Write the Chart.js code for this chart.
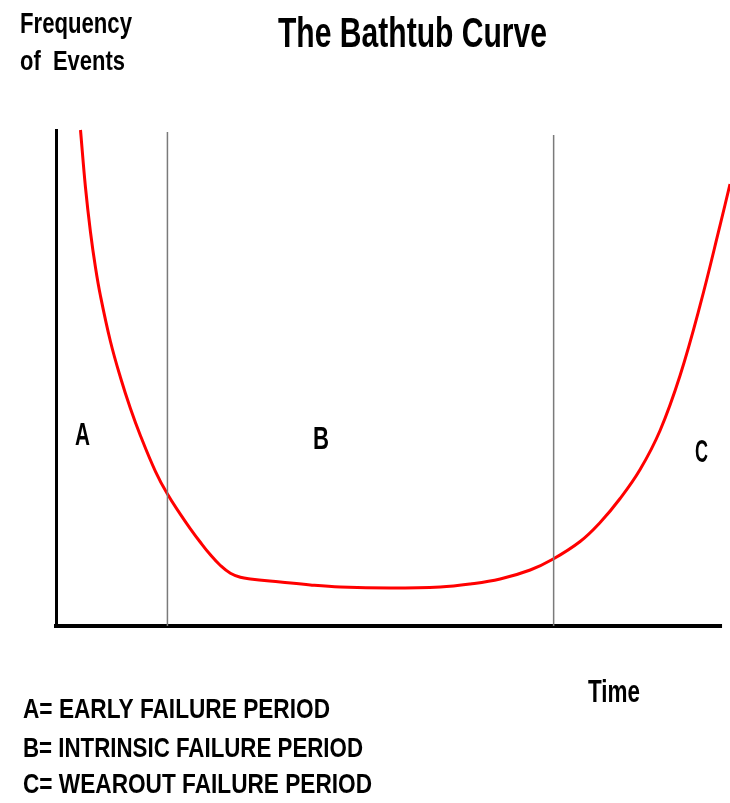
<!DOCTYPE html>
<html>
<head>
<meta charset="utf-8">
<script src="https://cdn.jsdelivr.net/npm/chart.js@4"></script>
<style>
  html, body { margin: 0; padding: 0; background: #ffffff; }
  canvas { display: block; }
</style>
</head>
<body>
<canvas id="c" width="730" height="803"></canvas>
<script>
// ---- Data ----
const curveTime = [3.69, 4.44, 5.19, 5.94, 6.70, 8.20, 9.71, 11.21, 12.72, 14.97, 16.78, 18.74, 20.24, 21.74, 23.25, 24.76, 26.26, 27.77, 29.27, 33.78, 38.30, 42.81, 50.34, 57.86, 62.38, 66.89, 71.41, 74.87, 78.93, 81.94, 84.95, 87.96, 90.97, 93.98, 96.99, 100.0, 101.5];
const curveFrequency = [100.0, 88.41, 79.44, 72.33, 66.53, 57.36, 50.10, 43.85, 38.37, 31.19, 26.59, 22.52, 19.60, 16.88, 14.35, 12.20, 10.63, 9.82, 9.48, 8.87, 8.27, 7.86, 7.66, 7.86, 8.47, 9.48, 11.29, 13.51, 17.04, 20.87, 25.71, 31.55, 39.42, 50.50, 64.62, 80.75, 89.11];
const timeAxisEnd = 100;
const timeMax = 101.5;
const periodBoundaries = [16.78, 74.94];
const boundaryTops = [99.6, 99.0];
const periodLetters = ["A", "B", "C"];
const titleText = "The Bathtub Curve";
const yAxisTitle = ["Frequency", "of  Events"];
const xAxisTitle = "Time";
const legendLines = ["A= EARLY FAILURE PERIOD", "B= INTRINSIC FAILURE PERIOD", "C= WEAROUT FAILURE PERIOD"];

// ---- Build datasets ----
const curvePoints = curveTime.map((t, i) => ({ x: t, y: curveFrequency[i] }));
const boundaryDatasets = periodBoundaries.map((t, i) => ({
  data: [{ x: t, y: 0 }, { x: t, y: boundaryTops[i] }],
  borderColor: "#7a7a7a",
  borderWidth: 1.5,
  pointRadius: 0,
  tension: 0,
  clip: false
}));
const timeAxisDataset = {
  data: [{ x: 0, y: 0 }, { x: timeAxisEnd, y: 0 }],
  borderColor: "#000000",
  borderWidth: 4,
  borderCapStyle: "square",
  pointRadius: 0,
  tension: 0,
  clip: false
};

// text helper: fit text into a box (left..right), at baseline with given cap height
function fitText(ctx, text, left, right, baseline, cap) {
  const size = cap / 0.716;
  ctx.save();
  ctx.font = "bold " + size.toFixed(2) + "px 'Liberation Sans', Arial, sans-serif";
  ctx.fillStyle = "#000000";
  ctx.textBaseline = "alphabetic";
  ctx.textAlign = "left";
  const w = ctx.measureText(text).width;
  const sx = (right - left) / w;
  ctx.translate(left, baseline);
  ctx.scale(sx, 1);
  ctx.fillText(text, 0, 0);
  ctx.restore();
}

const textPlugin = {
  id: "bathtubText",
  afterDraw(chart) {
    const ctx = chart.ctx;
    fitText(ctx, titleText, 278, 547, 47, 31);
    fitText(ctx, yAxisTitle[0], 20, 132, 33, 21);
    fitText(ctx, yAxisTitle[1], 20, 125, 70, 20);
    fitText(ctx, xAxisTitle, 588, 640, 702, 23);
    fitText(ctx, legendLines[0], 23, 330, 718, 20);
    fitText(ctx, legendLines[1], 23, 363, 757, 20);
    fitText(ctx, legendLines[2], 23, 372, 793, 20);
    fitText(ctx, periodLetters[0], 75, 90, 445, 22);
    fitText(ctx, periodLetters[1], 313, 329, 449, 23);
    fitText(ctx, periodLetters[2], 695, 708, 462, 22);
  }
};

new Chart(document.getElementById("c"), {
  type: "line",
  data: {
    datasets: [
      ...boundaryDatasets,
      timeAxisDataset,
      {
        data: curvePoints,
        borderColor: "#ff0000",
        borderWidth: 3,
        pointRadius: 0,
        tension: 0.4,
        capBezierPoints: false,
        clip: false
      }
    ]
  },
  options: {
    responsive: false,
    animation: false,
    devicePixelRatio: 1,
    layout: { padding: { left: 56, right: 0, top: 130, bottom: 177 } },
    plugins: { legend: { display: false }, tooltip: { enabled: false }, title: { display: false } },
    scales: {
      x: {
        type: "linear", min: 0, max: timeMax,
        grid: { display: false },
        ticks: { display: false },
        border: { display: false },
        afterFit(s) { s.height = 0; }
      },
      y: {
        type: "linear", min: 0, max: 100,
        grid: { display: false },
        ticks: { display: false },
        border: { display: true, color: "#000000", width: 3 },
        afterFit(s) { s.width = 0; }
      }
    }
  },
  plugins: [textPlugin]
});
</script>
</body>
</html>
